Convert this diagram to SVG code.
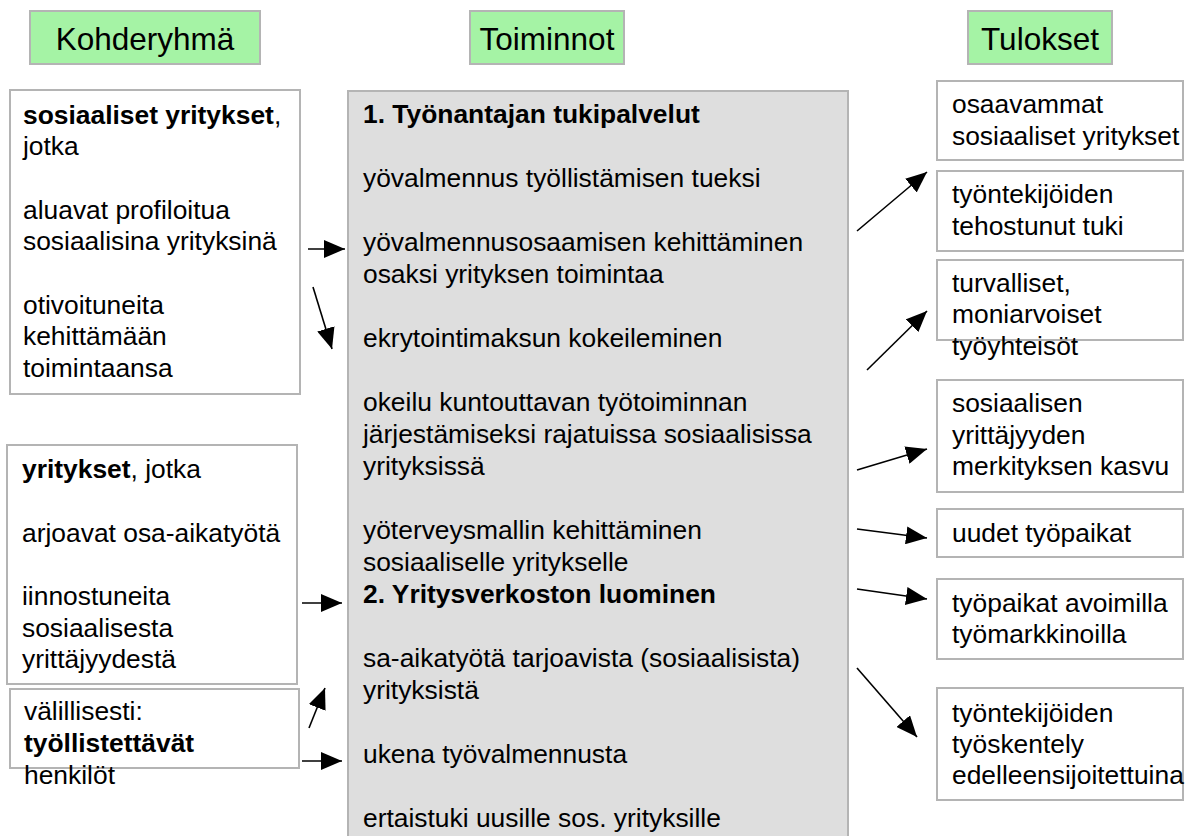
<svg xmlns="http://www.w3.org/2000/svg" width="1203" height="836" viewBox="0 0 1203 836">
<defs>
<style>
.t{font-family:"Liberation Sans",Arial,sans-serif;font-size:26.4px;fill:#000}
.h{font-family:"Liberation Sans",Arial,sans-serif;font-size:31.5px;fill:#000;text-anchor:middle}
.b{font-weight:bold}
.hd{fill:#a5f3a5;stroke:#b4b4b4;stroke-width:2}
.bx{fill:#fff;stroke:#b4b4b4;stroke-width:2}
.mid{fill:#dedede;stroke:#b4b4b4;stroke-width:2}
.c{stroke:#000;stroke-width:1.6;fill:none;marker-end:url(#ah)}
</style>
<marker id="ah" markerUnits="userSpaceOnUse" viewBox="0 0 21 18" refX="21" refY="9" markerWidth="21" markerHeight="18" orient="auto">
<path d="M0,0 L21,9 L0,18 z" fill="#000"/>
</marker>
</defs>
<rect width="1203" height="836" fill="#fff"/>

<g id="hdr-kohderyhma"><rect class="hd" x="30" y="11" width="230" height="53"/><text class="h" x="145" y="50">Kohderyhmä</text></g>
<g id="hdr-toiminnot"><rect class="hd" x="470" y="11" width="154" height="53"/><text class="h" x="547" y="50">Toiminnot</text></g>
<g id="hdr-tulokset"><rect class="hd" x="968" y="11" width="144" height="53"/><text class="h" x="1040" y="50">Tulokset</text></g>

<g id="target-social">
<rect class="bx" x="10" y="90" width="290" height="304"/>
<text class="t" x="23" y="124"><tspan class="b">sosiaaliset yritykset</tspan>,</text>
<text class="t" x="23" y="155">jotka</text>
<text class="t" x="23" y="219">aluavat profiloitua</text>
<text class="t" x="23" y="250">sosiaalisina yrityksinä</text>
<text class="t" x="23" y="314">otivoituneita</text>
<text class="t" x="23" y="345">kehittämään</text>
<text class="t" x="23" y="377">toimintaansa</text>
</g>

<g id="target-companies">
<rect class="bx" x="7" y="445" width="290" height="239"/>
<text class="t" x="22" y="478"><tspan class="b">yritykset</tspan>, jotka</text>
<text class="t" x="22" y="542">arjoavat osa-aikatyötä</text>
<text class="t" x="22" y="605">iinnostuneita</text>
<text class="t" x="22" y="637">sosiaalisesta</text>
<text class="t" x="22" y="668">yrittäjyydestä</text>
</g>

<g id="target-indirect">
<rect class="bx" x="10" y="689" width="289" height="79"/>
<text class="t" x="24" y="720">välillisesti:</text>
<text class="t b" x="24" y="752">työllistettävät</text>
<text class="t" x="24" y="784">henkilöt</text>
</g>

<g id="activities">
<rect class="mid" x="348" y="91" width="500" height="760"/>
<text class="t b" x="363" y="123">1. Työnantajan tukipalvelut</text>
<text class="t" x="363" y="187">yövalmennus työllistämisen tueksi</text>
<text class="t" x="363" y="251">yövalmennusosaamisen kehittäminen</text>
<text class="t" x="363" y="283">osaksi yrityksen toimintaa</text>
<text class="t" x="363" y="347">ekrytointimaksun kokeileminen</text>
<text class="t" x="363" y="411">okeilu kuntouttavan työtoiminnan</text>
<text class="t" x="363" y="443">järjestämiseksi rajatuissa sosiaalisissa</text>
<text class="t" x="363" y="475">yrityksissä</text>
<text class="t" x="363" y="539">yöterveysmallin kehittäminen</text>
<text class="t" x="363" y="571">sosiaaliselle yritykselle</text>
<text class="t b" x="363" y="603">2. Yritysverkoston luominen</text>
<text class="t" x="363" y="667">sa-aikatyötä tarjoavista (sosiaalisista)</text>
<text class="t" x="363" y="699">yrityksistä</text>
<text class="t" x="363" y="763">ukena työvalmennusta</text>
<text class="t" x="363" y="827">ertaistuki uusille sos. yrityksille</text>
</g>

<g id="res-1"><rect class="bx" x="937" y="81" width="246" height="79"/>
<text class="t" x="952" y="113">osaavammat</text><text class="t" x="952" y="145">sosiaaliset yritykset</text></g>
<g id="res-2"><rect class="bx" x="937" y="171" width="246" height="80"/>
<text class="t" x="952" y="203">työntekijöiden</text><text class="t" x="952" y="235">tehostunut tuki</text></g>
<g id="res-3"><rect class="bx" x="937" y="260" width="246" height="80"/>
<text class="t" x="952" y="292">turvalliset,</text><text class="t" x="952" y="323">moniarvoiset</text><text class="t" x="952" y="355">työyhteisöt</text></g>
<g id="res-4"><rect class="bx" x="937" y="380" width="246" height="112"/>
<text class="t" x="952" y="412">sosiaalisen</text><text class="t" x="952" y="444">yrittäjyyden</text><text class="t" x="952" y="475">merkityksen kasvu</text></g>
<g id="res-5"><rect class="bx" x="937" y="509" width="246" height="48"/>
<text class="t" x="952" y="542">uudet työpaikat</text></g>
<g id="res-6"><rect class="bx" x="937" y="579" width="246" height="80"/>
<text class="t" x="952" y="612">työpaikat avoimilla</text><text class="t" x="952" y="643">työmarkkinoilla</text></g>
<g id="res-7"><rect class="bx" x="937" y="688" width="246" height="112"/>
<text class="t" x="952" y="722">työntekijöiden</text><text class="t" x="952" y="753">työskentely</text><text class="t" x="952" y="784">edelleensijoitettuina</text></g>

<g id="connectors">
<line class="c" x1="308" y1="249" x2="345" y2="249"/>
<line class="c" x1="313" y1="287" x2="332" y2="349"/>
<line class="c" x1="302" y1="603" x2="342" y2="603"/>
<line class="c" x1="309" y1="728" x2="325" y2="688"/>
<line class="c" x1="302" y1="761" x2="342" y2="761"/>
<line class="c" x1="857" y1="231" x2="927" y2="172"/>
<line class="c" x1="867" y1="370" x2="927" y2="311"/>
<line class="c" x1="857" y1="470" x2="927" y2="449"/>
<line class="c" x1="857" y1="529" x2="927" y2="538"/>
<line class="c" x1="857" y1="589" x2="927" y2="599"/>
<line class="c" x1="857" y1="668" x2="917" y2="737"/>
</g>
</svg>
